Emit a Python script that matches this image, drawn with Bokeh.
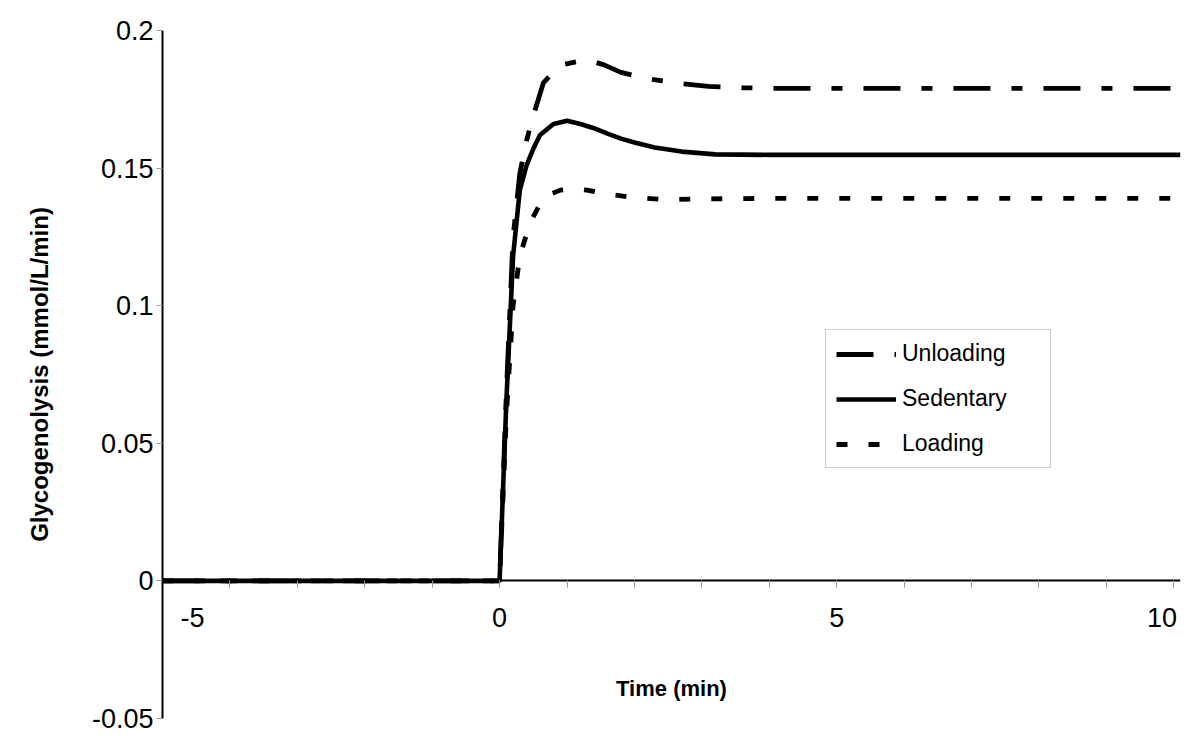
from bokeh.plotting import figure
from bokeh.models import Range1d, FixedTicker, CustomJSTickFormatter, Legend, LegendItem
from bokeh.embed import file_html
from bokeh.resources import INLINE

# ---- data ----
t_sed = [-5, 0, 0.1, 0.2, 0.3, 0.4, 0.5, 0.6, 0.8, 1.0, 1.2, 1.4, 1.6, 1.8, 2.0, 2.3, 2.7, 3.2, 4, 6, 8, 10.1]
y_sed = [0, 0, 0.065, 0.118, 0.142, 0.151, 0.157, 0.162, 0.166, 0.1672, 0.166, 0.1645, 0.1625, 0.1607,
         0.1593, 0.1575, 0.156, 0.155, 0.1548, 0.1548, 0.1548, 0.1548]

t_unl = [-5, 0, 0.1, 0.2, 0.3, 0.4, 0.5, 0.65, 0.8, 0.95, 1.15, 1.35, 1.55, 1.8, 2.2, 2.7, 3.1, 3.6, 4, 6, 8, 10.1]
y_unl = [0, 0, 0.068, 0.125, 0.148, 0.160, 0.169, 0.181, 0.185, 0.1877, 0.1887, 0.189, 0.1875, 0.1848,
         0.1825, 0.1807, 0.1797, 0.1792, 0.179, 0.179, 0.179, 0.179]

t_load = [-5, 0, 0.1, 0.2, 0.3, 0.45, 0.6, 0.7, 0.9, 1.1, 1.3, 1.6, 2.0, 2.5, 3.0, 4, 6, 8, 10.1]
y_load = [0, 0, 0.06, 0.1, 0.118, 0.130, 0.137, 0.140, 0.142, 0.1425, 0.142, 0.1405, 0.1393, 0.1385,
          0.1388, 0.139, 0.139, 0.139, 0.139]

x_major = [-5, 0, 5, 10]
x_minor = list(range(-5, 11))
y_major = [-0.05, 0, 0.05, 0.1, 0.15, 0.2]

series_names = ["Unloading", "Sedentary", "Loading"]

FONT = "Liberation Sans"

p = figure(width=1184, height=740, x_range=Range1d(-5, 10.1), y_range=Range1d(-0.05, 0.2),
           output_backend="svg", toolbar_location=None,
           min_border_left=162, min_border_right=4, min_border_top=30, min_border_bottom=22)
p.outline_line_color = None
p.grid.visible = False
p.background_fill_color = "white"
p.border_fill_color = "white"

r_unl = p.line(t_unl, y_unl, line_color="black", line_width=4.8, line_dash="37 21 11 21")
r_sed = p.line(t_sed, y_sed, line_color="black", line_width=4.6)
r_load = p.line(t_load, y_load, line_color="black", line_width=4.8, line_dash="11 21")

# x axis crossing at y = 0
xa = p.xaxis[0]
xa.fixed_location = 0
xa.ticker = FixedTicker(ticks=x_major, minor_ticks=x_minor)
xa.major_label_overrides = {-5: "\u00a0" * 8 + "-5", 10: "10\u00a0"}
xa.axis_line_color = "black"
xa.axis_line_width = 2
xa.major_tick_in = 0
xa.major_tick_out = 7
xa.minor_tick_in = 0
xa.minor_tick_out = 7
xa.major_tick_line_color = "#9a9a9a"
xa.minor_tick_line_color = "#9a9a9a"
xa.major_label_text_font = FONT
xa.major_label_text_font_size = "27px"
xa.major_label_text_color = "black"
xa.major_label_standoff = 15
xa.axis_label = "Time (min)"
xa.axis_label_text_font = FONT
xa.axis_label_text_font_size = "22px"
xa.axis_label_text_font_style = "bold"
xa.axis_label_text_color = "black"
xa.axis_label_standoff = 40

ya = p.yaxis[0]
ya.ticker = FixedTicker(ticks=y_major, minor_ticks=[])
ya.formatter = CustomJSTickFormatter(code="return tick.toFixed(2).replace(/\\.?0+$/, '');")
ya.axis_line_color = "black"
ya.axis_line_width = 2
ya.major_tick_in = 0
ya.major_tick_out = 6
ya.minor_tick_in = 0
ya.minor_tick_out = 0
ya.major_tick_line_color = "#9a9a9a"
ya.major_label_text_font = FONT
ya.major_label_text_font_size = "27px"
ya.major_label_text_color = "black"
ya.major_label_standoff = 3
ya.axis_label = "Glycogenolysis (mmol/L/min)"
ya.axis_label_text_font = FONT
ya.axis_label_text_font_size = "24px"
ya.axis_label_text_font_style = "bold"
ya.axis_label_text_color = "black"
ya.axis_label_standoff = 36

legend = Legend(items=[LegendItem(label=series_names[0], renderers=[r_unl]),
                       LegendItem(label=series_names[1], renderers=[r_sed]),
                       LegendItem(label=series_names[2], renderers=[r_load])],
                location=(663, 250))
legend.border_line_color = "#9a9a9a"
legend.border_line_width = 1
legend.background_fill_color = "white"
legend.background_fill_alpha = 1
legend.label_text_font = FONT
legend.label_text_font_size = "23px"
legend.label_text_color = "black"
legend.glyph_width = 60
legend.glyph_height = 24
legend.label_height = 24
legend.spacing = 18
legend.padding = 10
legend.label_standoff = 6
legend.label_width = 138
legend.margin = 0
p.add_layout(legend)

open("out.html", "w").write(file_html(p, INLINE))
